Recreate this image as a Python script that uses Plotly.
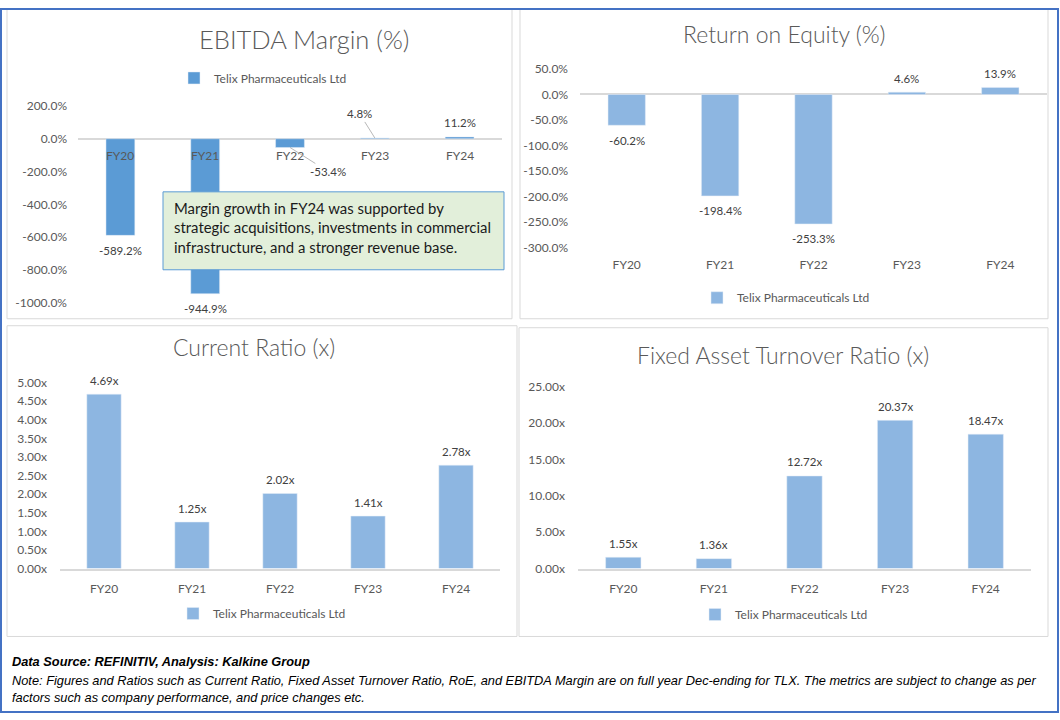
import plotly.graph_objects as go

# ---------------- data ----------------
categories = ["FY20", "FY21", "FY22", "FY23", "FY24"]
series_name = "Telix Pharmaceuticals Ltd"

ebitda_margin = [-589.2, -944.9, -53.4, 4.8, 11.2]
roe = [-60.2, -198.4, -253.3, 4.6, 13.9]
current_ratio = [4.69, 1.25, 2.02, 1.41, 2.78]
fixed_asset_turnover = [1.55, 1.36, 12.72, 20.37, 18.47]

ebitda_ticks = [200, 0, -200, -400, -600, -800, -1000]
roe_ticks = [50, 0, -50, -100, -150, -200, -250, -300]
cr_ticks = [0, 0.5, 1, 1.5, 2, 2.5, 3, 3.5, 4, 4.5, 5]
fat_ticks = [0, 5, 10, 15, 20, 25]

W, H = 1060, 720
FONT = "Lato, Carlito, Calibri, sans-serif"
FOOT_FONT = "Liberation Sans Narrow, Arial Narrow, Liberation Sans, sans-serif"
DARK_BLUE = "#5B9BD5"
LIGHT_BLUE = "#8DB6E1"
GRAY_TXT = "#595959"
LBL_TXT = "#404040"
AXIS_GRAY = "#D9D9D9"

# vertical correction for the capture (observed offset / scale)
Y_OFF, Y_SCALE = 7.0, 0.98


def px(x):
    return x / W


def py(y):
    yy = (y - Y_OFF) / Y_SCALE
    return 1 - yy / H


def py_raw(y):
    return 1 - y / H


def pct(v):
    return f"{v:.1f}%"


def xfmt(v):
    return f"{v:.2f}x"


fig = go.Figure()

lblfont = dict(size=11.5, color=LBL_TXT, family=FONT)
tickfont = dict(size=12, color=GRAY_TXT, family=FONT)
legfont = dict(size=12, color=GRAY_TXT, family=FONT)

panels = [
    # (values, colour, bar width, axis suffix, formatter)
    (ebitda_margin, DARK_BLUE, 0.34, "", pct),
    (roe, LIGHT_BLUE, 0.40, "2", pct),
    (current_ratio, LIGHT_BLUE, 0.39, "3", xfmt),
    (fixed_asset_turnover, LIGHT_BLUE, 0.39, "4", xfmt),
]

annotations = []
for vals, col, bw, sfx, fmt in panels:
    fig.add_trace(go.Bar(
        x=categories, y=vals, name=series_name, marker_color=col, width=bw,
        xaxis="x" + sfx, yaxis="y" + sfx, legend="legend" + sfx, showlegend=True,
        cliponaxis=False,
    ))
    for i, (c, v) in enumerate(zip(categories, vals)):
        if sfx == "" and i in (2, 3):
            continue  # leader-line labels added below
        annotations.append(dict(
            text=fmt(v), x=c, y=v, xref="x" + sfx, yref="y" + sfx,
            yanchor="middle", yshift=14 if v >= 0 else -15, showarrow=False, font=lblfont))


def yaxis(domain_px, anchor, rng, ticks, fmt, standoff, zeroline=True):
    return dict(
        domain=[py(domain_px[1]), py(domain_px[0])], range=rng, anchor=anchor,
        tickvals=ticks, ticktext=[fmt(t) for t in ticks], tickfont=tickfont,
        showgrid=False, zeroline=zeroline, zerolinecolor=AXIS_GRAY, zerolinewidth=1.5,
        showline=False, ticks="", ticklabelstandoff=standoff, fixedrange=True,
    )


def xaxis(domain_px, anchor, showlabels=True, showline=False):
    return dict(
        domain=[px(domain_px[0]), px(domain_px[1])], anchor=anchor,
        showticklabels=showlabels, tickfont=tickfont, ticks="",
        showgrid=False, zeroline=False, showline=showline, linecolor=AXIS_GRAY, linewidth=1.5,
        ticklabelstandoff=8, fixedrange=True,
    )


fig.update_layout(
    xaxis=xaxis((78, 502), "y", showlabels=False),
    yaxis=yaxis((105, 302), "x", [-1000, 200], ebitda_ticks, pct, 10),
    xaxis2=xaxis((580, 1047), "y2"),
    yaxis2=yaxis((68, 247), "x2", [-300, 50], roe_ticks, pct, 11),
    xaxis3=xaxis((60, 500), "y3", showline=True),
    yaxis3=yaxis((382, 568), "x3", [0, 5], cr_ticks, xfmt, 12, zeroline=False),
    xaxis4=xaxis((578, 1031), "y4", showline=True),
    yaxis4=yaxis((386, 568), "x4", [0, 25], fat_ticks, xfmt, 12, zeroline=False),
)


def legend(cx, cy):
    return dict(orientation="h", x=px(cx), y=py(cy), xanchor="center", yanchor="middle",
                font=legfont, bgcolor="rgba(0,0,0,0)", itemwidth=30, tracegroupgap=0)


fig.update_layout(
    legend=legend(263, 77), legend2=legend(786, 297),
    legend3=legend(262, 613), legend4=legend(784, 614),
)

# titles
titles = [("EBITDA Margin (%)", 304, 38, 25.5), ("Return on Equity (%)", 784, 33, 23),
          ("Current Ratio (x)", 254, 346, 23), ("Fixed Asset Turnover Ratio (x)", 783, 354, 23)]
for t, cx, cy, s in titles:
    annotations.append(dict(text=t, x=px(cx), y=py(cy), xref="paper", yref="paper",
                            xanchor="center", yanchor="middle", showarrow=False,
                            font=dict(size=s, color=GRAY_TXT, family=FONT, weight=300)))

# EBITDA category labels sitting on the zero line
for c in categories:
    annotations.append(dict(text=c, x=c, y=0, xref="x", yref="y", yshift=-17,
                            showarrow=False, font=tickfont))

# EBITDA leader-line data labels
annotations.append(dict(text=pct(ebitda_margin[2]), x=categories[2], y=ebitda_margin[2],
                        xref="x", yref="y", showarrow=True, arrowhead=0, arrowwidth=0.8,
                        arrowcolor="#A6A6A6", ax=38, ay=24, standoff=0, font=lblfont))
annotations.append(dict(text=pct(ebitda_margin[3]), x=categories[3], y=ebitda_margin[3],
                        xref="x", yref="y", showarrow=True, arrowhead=0, arrowwidth=0.8,
                        arrowcolor="#A6A6A6", ax=-15, ay=-24, standoff=0, font=lblfont))

# comment box text
annotations.append(dict(
    text="Margin growth in FY24 was supported by<br>strategic acquisitions, investments in commercial<br>infrastructure, and a stronger revenue base.",
    x=px(172), y=py(196.5), xref="paper", yref="paper", xanchor="left", yanchor="top",
    align="left", showarrow=False, font=dict(size=14.9, color="#1a1a1a", family=FONT)))

# footer
annotations.append(dict(
    text="<b><i>Data Source: REFINITIV, Analysis: Kalkine Group</i></b>",
    x=px(10), y=py(661), xref="paper", yref="paper", xanchor="left", yanchor="middle",
    showarrow=False, font=dict(size=12.8, color="#000000", family=FOOT_FONT)))
annotations.append(dict(
    text="<i>Note: Figures and Ratios such as Current Ratio, Fixed Asset Turnover Ratio, RoE, and EBITDA Margin are on full year Dec-ending for TLX. The metrics are subject to change as per<br>factors such as company performance, and price changes etc.</i>",
    x=px(10), y=py(671), xref="paper", yref="paper", xanchor="left", yanchor="top",
    align="left", showarrow=False, font=dict(size=12.8, color="#000000", family=FOOT_FONT)))

shapes = []
# panel borders
for x0, y0, x1, y1 in [(7, 7, 512, 318), (520, 7, 1048, 318), (7, 325, 517, 636), (519, 327, 1048, 636)]:
    shapes.append(dict(type="rect", xref="paper", yref="paper", x0=px(x0), x1=px(x1),
                       y0=py(y1), y1=py(max(y0, Y_OFF + 1)), line=dict(color=AXIS_GRAY, width=1),
                       layer="below"))
# comment box
shapes.append(dict(type="rect", xref="paper", yref="paper", x0=px(163), x1=px(504),
                   y0=py(269), y1=py(191), fillcolor="#E2EFDA",
                   line=dict(color=DARK_BLUE, width=1), layer="above"))
# outer border (kept at the figure edge)
shapes.append(dict(type="rect", xref="paper", yref="paper", x0=px(1), x1=px(1058),
                   y0=py_raw(719), y1=py_raw(1), line=dict(color="#4472C4", width=2), layer="above"))

fig.update_layout(
    width=W, height=H, autosize=False, margin=dict(l=0, r=0, t=0, b=0),
    paper_bgcolor="white", plot_bgcolor="white",
    annotations=annotations, shapes=shapes,
    font=dict(family=FONT, color=GRAY_TXT),
)

post = (
    "document.documentElement.style.margin='0';"
    "document.body.style.margin='0';document.body.style.padding='0';"
)
fig.write_html("out.html", config={"displayModeBar": False}, post_script=post)
